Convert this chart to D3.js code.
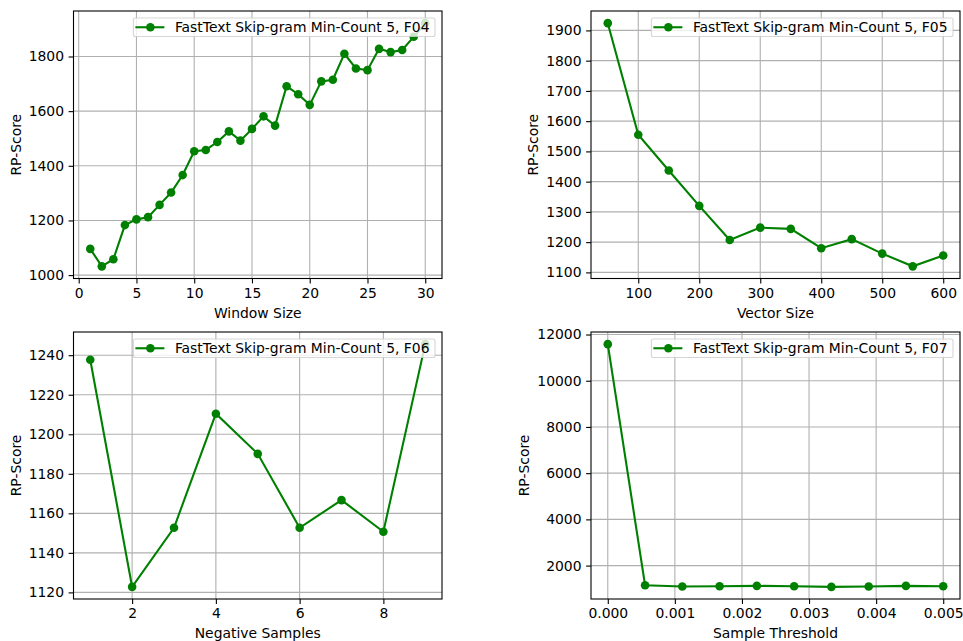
<!DOCTYPE html>
<html><head><meta charset="utf-8">
<script src="https://cdn.jsdelivr.net/npm/d3@7"></script>
<style>body{margin:0;background:#fff} text{font-family:"DejaVu Sans",sans-serif}</style>
</head><body><svg id="c" width="963" height="641"></svg>
<script>
// ---- data ----
const windowSizes = [1,2,3,4,5,6,7,8,9,10,11,12,13,14,15,16,17,18,19,20,21,22,23,24,25,26,27,28,29,30];
const windowScores = [1096,1032,1058,1183,1204,1212,1257,1302,1366,1453,1458,1487,1526,1492,1535,1581,1547,1691,1662,1623,1709,1715,1810,1756,1750,1828,1816,1824,1872,1922];
const vectorSizes = [50,100,150,200,250,300,350,400,450,500,550,600];
const vectorScores = [1924,1555,1437,1320,1207,1248,1244,1180,1210,1162,1120,1156];
const negSamples = [1,2,3,4,5,6,7,8,9];
const negScores = [1237.7,1122.8,1152.7,1210.4,1190.1,1152.7,1166.7,1150.7,1245.6];
const thresholds = [0,0.000556,0.001111,0.001667,0.002222,0.002778,0.003333,0.003889,0.004444,0.005];
const thresholdScores = [11584,1151,1093,1108,1122,1108,1079,1093,1122,1108];

const xTicks1 = [0,5,10,15,20,25,30];
const yTicks1 = [1000,1200,1400,1600,1800];
const xTicks2 = [100,200,300,400,500,600];
const yTicks2 = [1100,1200,1300,1400,1500,1600,1700,1800,1900];
const xTicks3 = [2,4,6,8];
const yTicks3 = [1120,1140,1160,1180,1200,1220,1240];
const xTicks4 = [0,0.001,0.002,0.003,0.004,0.005];
const yTicks4 = [2000,4000,6000,8000,10000,12000];

const legendLabels = ["FastText Skip-gram Min-Count 5, F04","FastText Skip-gram Min-Count 5, F05","FastText Skip-gram Min-Count 5, F06","FastText Skip-gram Min-Count 5, F07"];
const xLabels = ["Window Size","Vector Size","Negative Samples","Sample Threshold"];
const yLabel = "RP-Score";

// ---- layout ----
const FS = 13.9;
const GREEN = "#008000";
const boxes = [
  {x0:73.5, x1:442, y0:11, y1:278.5},
  {x0:591, x1:960, y0:11, y1:278.5},
  {x0:73.5, x1:442, y0:332, y1:599},
  {x0:591, x1:960, y0:332, y1:599}
];
const panels = [
  {xs:windowSizes, ys:windowScores, xt:xTicks1, yt:yTicks1, xf:d3.format("d")},
  {xs:vectorSizes, ys:vectorScores, xt:xTicks2, yt:yTicks2, xf:d3.format("d")},
  {xs:negSamples, ys:negScores, xt:xTicks3, yt:yTicks3, xf:d3.format("d")},
  {xs:thresholds, ys:thresholdScores, xt:xTicks4, yt:yTicks4, xf:d3.format(".3f")}
];
function padded(arr){const [a,b]=d3.extent(arr);const m=(b-a)*0.05;return [a-m,b+m];}

const svg = d3.select("#c");
panels.forEach((p,i)=>{
  const b = boxes[i];
  const g = svg.append("g");
  const x = d3.scaleLinear().domain(padded(p.xs)).range([b.x0,b.x1]);
  const y = d3.scaleLinear().domain(padded(p.ys)).range([b.y1,b.y0]);
  const clipId = "clip"+i;
  g.append("clipPath").attr("id",clipId).append("rect")
    .attr("x",b.x0).attr("y",b.y0).attr("width",b.x1-b.x0).attr("height",b.y1-b.y0);
  // grid
  const grid = g.append("g").attr("stroke","#b0b0b0").attr("stroke-width",1.1);
  p.xt.forEach(t=>grid.append("line").attr("x1",x(t)).attr("x2",x(t)).attr("y1",b.y0).attr("y2",b.y1));
  p.yt.forEach(t=>grid.append("line").attr("y1",y(t)).attr("y2",y(t)).attr("x1",b.x0).attr("x2",b.x1));
  // line + markers
  const data = p.xs.map((v,k)=>[v,p.ys[k]]);
  const plot = g.append("g").attr("clip-path",`url(#${clipId})`);
  plot.append("path").datum(data)
    .attr("d",d3.line().x(d=>x(d[0])).y(d=>y(d[1])))
    .attr("fill","none").attr("stroke",GREEN).attr("stroke-width",2.1);
  plot.selectAll("circle").data(data).join("circle")
    .attr("cx",d=>x(d[0])).attr("cy",d=>y(d[1])).attr("r",4.3).attr("fill",GREEN);
  // axes
  const xa = g.append("g").attr("transform",`translate(0,${b.y1})`)
    .call(d3.axisBottom(x).tickValues(p.xt).tickFormat(p.xf).tickSize(4.9).tickPadding(4.6));
  const ya = g.append("g").attr("transform",`translate(${b.x0},0)`)
    .call(d3.axisLeft(y).tickValues(p.yt).tickFormat(d3.format("d")).tickSize(4.9).tickPadding(4.6));
  [xa,ya].forEach(a=>{
    a.select(".domain").remove();
    a.selectAll("line").attr("stroke","#000").attr("stroke-width",1.1);
    a.selectAll("text").attr("font-size",FS).attr("fill","#000").attr("font-family","DejaVu Sans");
  });
  // spines
  g.append("rect").attr("x",b.x0).attr("y",b.y0).attr("width",b.x1-b.x0).attr("height",b.y1-b.y0)
    .attr("fill","none").attr("stroke","#000").attr("stroke-width",1.1);
  // labels
  g.append("text").attr("x",(b.x0+b.x1)/2).attr("y",b.y1+39).attr("text-anchor","middle")
    .attr("font-size",FS).text(xLabels[i]);
  const bb = ya.node().getBBox();
  g.append("text").attr("transform",`translate(${b.x0+bb.x-8},${(b.y0+b.y1)/2}) rotate(-90)`)
    .attr("text-anchor","middle").attr("font-size",FS).text(yLabel);
  // legend
  const lg = g.append("g");
  const lt = lg.append("text").attr("font-size",FS).text(legendLabels[i]);
  const tw = lt.node().getComputedTextLength();
  const w = tw + 47, h = 18.5;
  const rx = b.x1 - 7 - w, ry = b.y0 + 7;
  lg.insert("rect","text").attr("x",rx).attr("y",ry).attr("width",w).attr("height",h).attr("rx",2)
    .attr("fill","#fff").attr("fill-opacity",0.8).attr("stroke","#cccccc").attr("stroke-opacity",0.8).attr("stroke-width",1.1);
  lg.append("line").attr("x1",rx+2).attr("x2",rx+31).attr("y1",ry+h/2).attr("y2",ry+h/2)
    .attr("stroke",GREEN).attr("stroke-width",2.1);
  lg.append("circle").attr("cx",rx+17).attr("cy",ry+h/2).attr("r",4.3).attr("fill",GREEN);
  lt.attr("x",rx+41.5).attr("y",ry+13.6);
});
</script></body></html>
